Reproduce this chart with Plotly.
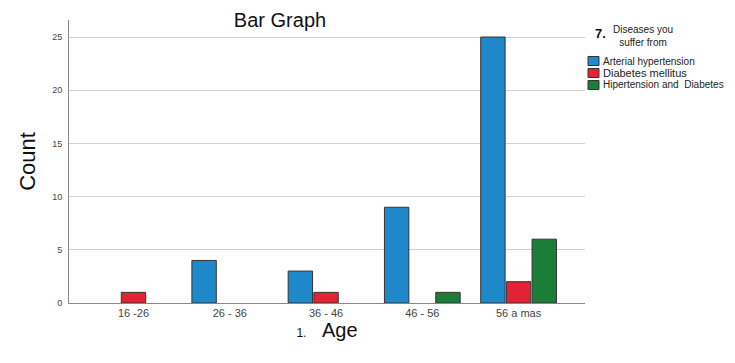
import plotly.graph_objects as go

categories = ["16 -26", "26 - 36", "36 - 46", "46 - 56", "56 a mas"]
arterial_hypertension = [None, 4, 3, 9, 25]
diabetes_mellitus = [1, None, 1, None, 2]
hipertension_and_diabetes = [None, None, None, 1, 6]
series_names = ["Arterial hypertension", "Diabetes mellitus", "Hipertension and  Diabetes"]
y_ticks = [0, 5, 10, 15, 20, 25]

colors = ["#1f88cb", "#e32235", "#1b7d37"]
series = [arterial_hypertension, diabetes_mellitus, hipertension_and_diabetes]

fig = go.Figure()
for name, vals, c in zip(series_names, series, colors):
    fig.add_trace(go.Bar(
        x=categories, y=vals, name=name, showlegend=False,
        marker=dict(color=c, line=dict(color="#333333", width=1)),
    ))

W, H = 735, 363
OFF = 8  # page body margin
L, R, T, B = 61, 158, 12, 68
PW, PH = W - L - R, H - T - B


def px(x):
    return (x - OFF - L) / PW


def py(y):
    return (H - B - (y - OFF)) / PH


legend_items_y = [61, 73, 85]
legend_sizes = [10, 11, 10]
shapes = []
annotations = []
for name, c, yy, fs in zip(series_names, colors, legend_items_y, legend_sizes):
    shapes.append(dict(type="rect", xref="paper", yref="paper",
                       x0=px(588), x1=px(599),
                       y0=py(yy + 4.5), y1=py(yy - 4.5),
                       fillcolor=c, line=dict(color="#333", width=1)))
    annotations.append(dict(text=name, xref="paper", yref="paper",
                            x=px(601), y=py(yy),
                            xanchor="left", yanchor="middle", showarrow=False,
                            font=dict(size=fs, color="#222")))
annotations.append(dict(text="<b>7.</b>", xref="paper", yref="paper",
                        x=px(600), y=py(33),
                        xanchor="center", yanchor="middle", showarrow=False,
                        font=dict(size=13, color="#111")))
annotations.append(dict(text="Diseases you<br>suffer from", xref="paper", yref="paper",
                        x=px(643), y=py(36),
                        xanchor="center", yanchor="middle", showarrow=False,
                        font=dict(size=10, color="#222")))

fig.update_layout(
    width=W, height=H,
    margin=dict(l=L, r=R, t=T, b=B, autoexpand=False),
    paper_bgcolor="white", plot_bgcolor="white",
    barmode="group", bargap=0.2, bargroupgap=0.05,
    font=dict(family="Liberation Sans, Arial, sans-serif", color="#222"),
    title=dict(text="Bar Graph", x=(280 - OFF) / W, xanchor="center", y=1 - 12 / H, yanchor="middle",
               font=dict(size=20, color="#111")),
    shapes=shapes, annotations=annotations,
    xaxis=dict(
        range=[-0.67, 4.69], showline=True, linecolor="#888", linewidth=1,
        ticks="", tickfont=dict(size=11, color="#444"), automargin=False,
        title=dict(text="<span style='font-size:12px'>1.</span>   Age",
                   font=dict(size=20, color="#111"), standoff=3),
    ),
    yaxis=dict(
        range=[0, 26.6], tickvals=y_ticks, showline=True, linecolor="#888", linewidth=1,
        showgrid=True, gridcolor="#d0d0d0", zeroline=False, automargin=False,
        ticks="outside", ticklen=4, tickcolor="white", tickfont=dict(size=9, color="#444"),
        title=dict(text="Count", font=dict(size=22, color="#111"), standoff=10),
    ),
)

fig.write_html("out.html")
